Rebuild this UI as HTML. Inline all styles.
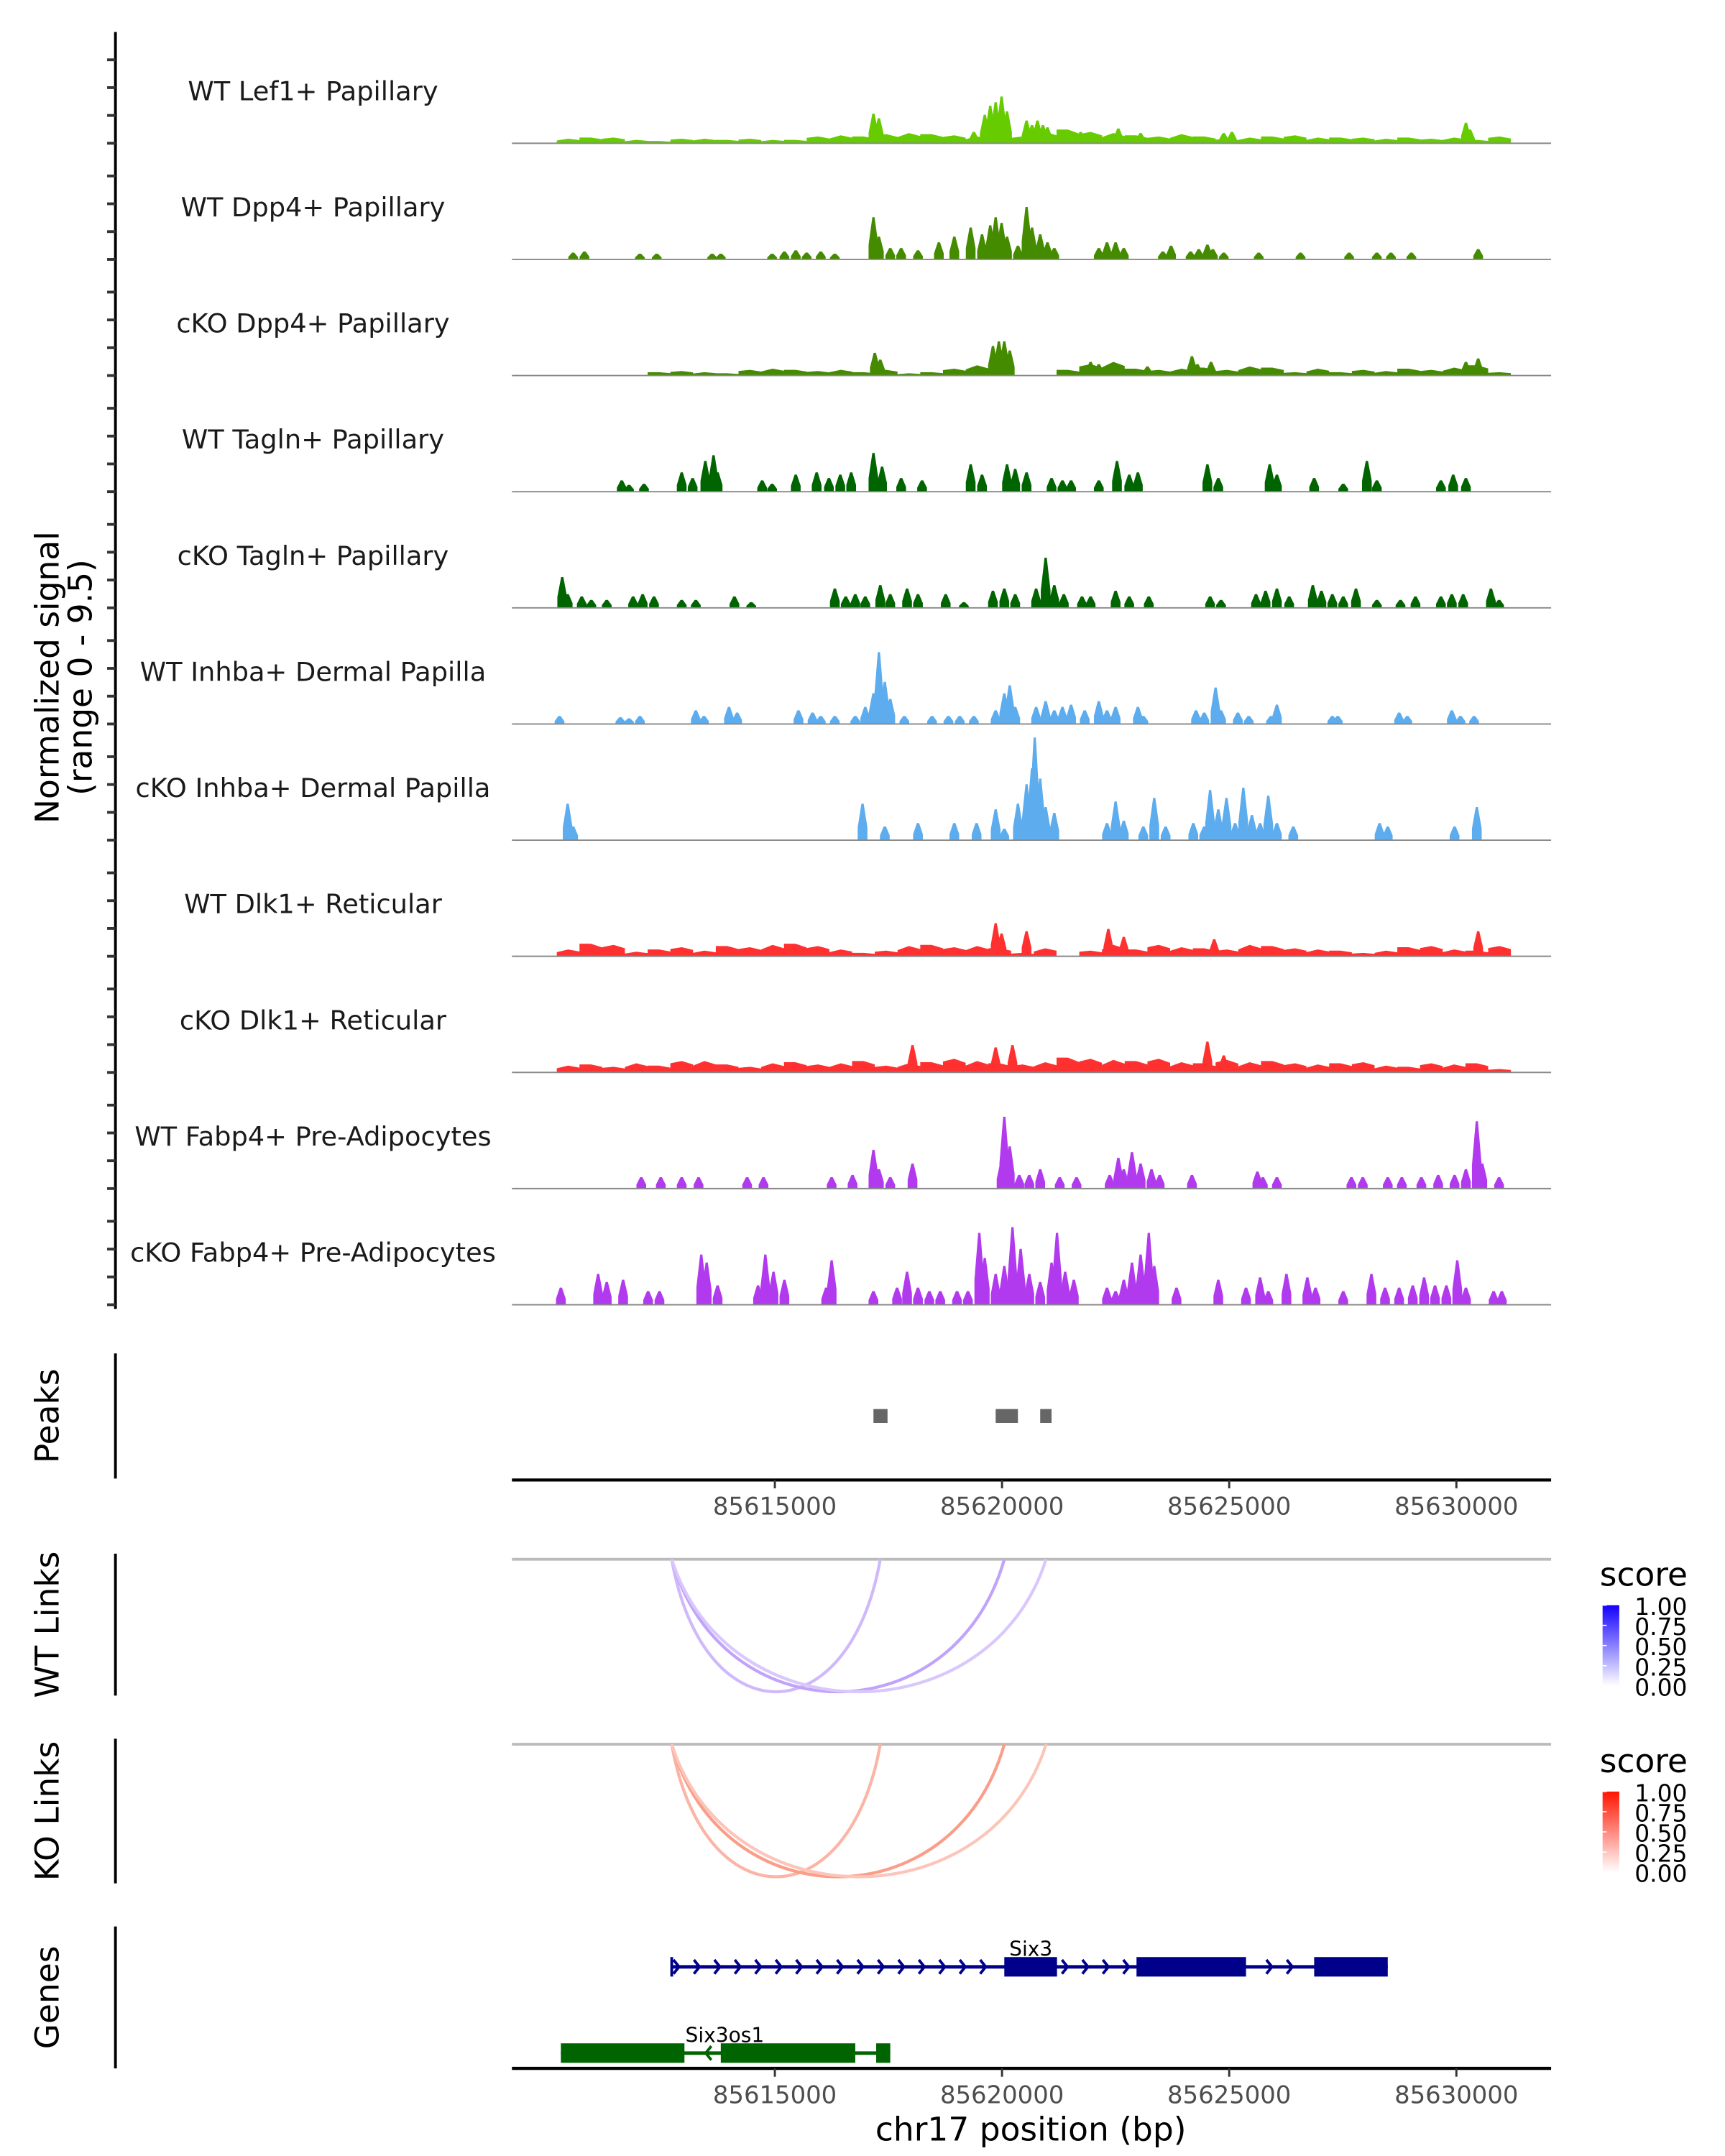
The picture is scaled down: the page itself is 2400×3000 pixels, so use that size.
<!DOCTYPE html>
<html><head><meta charset="utf-8"><title>Chromatin accessibility coverage plot for Six3 region, chr17</title>
<style>html,body{margin:0;padding:0;background:#fff}svg{display:block}text{font-family:"DejaVu Sans","Liberation Sans",sans-serif}</style>
</head><body>
<svg id="fig" xmlns="http://www.w3.org/2000/svg" width="2400" height="3000" viewBox="0 0 1240 1550">
<rect width="1240" height="1550" fill="#fff"/>
<g id="tracks"></g>
<g id="left"></g>
<text transform="translate(42,487) rotate(-90)" text-anchor="middle" font-size="23.5">Normalized signal</text>
<text transform="translate(66,487) rotate(-90)" text-anchor="middle" font-size="23.5">(range 0 - 9.5)</text>
<g id="peaks"></g>
<g id="links"></g>
<g id="genes"></g>
<g id="legend"></g>
</svg>
<script>
const NS='http://www.w3.org/2000/svg';
// ---- data ----
const trackNames=["WT Lef1+ Papillary","WT Dpp4+ Papillary","cKO Dpp4+ Papillary","WT Tagln+ Papillary","cKO Tagln+ Papillary","WT Inhba+ Dermal Papilla","cKO Inhba+ Dermal Papilla","WT Dlk1+ Reticular","cKO Dlk1+ Reticular","WT Fabp4+ Pre-Adipocytes","cKO Fabp4+ Pre-Adipocytes"];
const trackColors=["#66CC00","#458B00","#458B00","#006400","#006400","#5CACEE","#5CACEE","#FF3030","#FF3030","#B23AEE","#B23AEE"];
const bgStart=10.2, bgStep=0.5;
const bgLef1=[0.4,0.5,0.5,0.3,0.2,0.4,0.4,0.3,0.4,0.3,0.3,0.6,0.7,0.6,0.8,0.9,0.8,0.7,0.6,0.5,0.6,1.0,1.2,1.0,0.9,0.7,0.6,0.8,0.6,0.4,0.5,0.6,0.7,0.5,0.5,0.5,0.4,0.5,0.4,0.5,0.3,0.6];
const bgCkoDpp4=[0,0,0,0,0.3,0.4,0.3,0.2,0.5,0.6,0.5,0.4,0.5,0.3,0.5,0.2,0.3,0.6,0.9,0.5,0,0,0.5,1.0,1.2,0.6,0.5,0.6,0.7,0.5,0.8,0.7,0.3,0.6,0.3,0.5,0.4,0.6,0.5,0.7,0.9,0.3];
const bgWtDlk1=[0.6,1.1,1.0,0.4,0.6,0.8,0.5,0.9,0.8,1.0,1.1,0.9,0.6,0.3,0.5,0.9,1.0,0.8,0.9,0.7,0.3,0.7,0,0.5,1.0,0.6,1.0,0.8,0.7,0.6,1.0,0.9,0.7,0.6,0.5,0.3,0.5,0.8,0.9,0.6,0.5,0.9];
const bgCkoDlk1=[0.6,0.7,0.5,0.8,0.6,1.0,1.0,0.7,0.5,0.8,0.9,0.7,0.8,1.0,0.6,0.8,0.9,1.2,1.0,0.8,0.7,0.9,1.3,1.2,1.1,1.0,1.2,0.9,0.8,1.1,0.9,1.0,0.8,0.7,0.8,0.9,0.6,0.5,0.8,0.7,0.8,0.3];
const pkLef1=[[17.17,2.6],[17.29,2.2],[19.38,1.0],[19.62,2.5],[19.74,3.3],[19.86,3.6],[19.99,4.1],[20.11,2.8],[20.54,2.0],[20.66,1.6],[20.78,2.0],[20.90,1.6],[21.00,1.4],[21.45,1.0],[21.73,1.0],[22.56,1.3],[23.05,0.9],[24.88,0.9],[25.06,1.0],[30.21,1.8],[30.30,1.2]];
const pkWtDpp4=[[10.56,0.6],[10.81,0.7],[12.03,0.5],[12.40,0.5],[13.62,0.5],[13.81,0.5],[14.94,0.5],[15.21,0.7],[15.46,0.8],[15.70,0.6],[16.01,0.7],[16.32,0.5],[17.17,3.7],[17.29,2.0],[17.54,1.0],[17.78,1.0],[18.15,0.8],[18.61,1.5],[18.95,2.0],[19.31,2.8],[19.56,2.2],[19.74,3.0],[19.86,3.7],[19.99,3.2],[20.11,2.0],[20.35,1.2],[20.54,4.6],[20.66,2.8],[20.84,2.2],[21.00,1.5],[21.15,1.0],[22.13,1.0],[22.31,1.5],[22.50,1.5],[22.68,1.0],[23.54,0.7],[23.72,1.2],[24.15,0.7],[24.33,0.9],[24.52,1.3],[24.64,0.9],[24.88,0.6],[25.65,0.6],[26.57,0.6],[27.64,0.6],[28.25,0.6],[28.56,0.6],[29.01,0.6],[30.48,0.9]];
const pkCkoDpp4=[[17.20,2.0],[17.32,1.4],[19.80,2.6],[19.93,3.0],[20.05,3.0],[20.17,2.2],[21.95,1.2],[22.13,1.0],[23.20,0.8],[24.18,1.7],[24.30,1.0],[24.60,1.2],[30.21,1.2],[30.48,1.5]];
const pkWtTagln=[[11.63,1.0],[11.79,0.6],[12.12,0.7],[12.95,1.7],[13.19,1.2],[13.47,2.7],[13.65,3.2],[13.74,1.7],[14.72,1.0],[14.94,0.7],[15.46,1.5],[15.92,1.7],[16.19,1.2],[16.44,1.5],[16.68,1.7],[17.17,3.4],[17.36,2.2],[17.78,1.2],[18.24,1.0],[19.31,2.4],[19.56,1.5],[20.11,2.4],[20.29,2.0],[20.54,1.7],[21.09,1.2],[21.33,1.0],[21.52,1.0],[22.13,1.0],[22.53,2.7],[22.80,1.5],[22.99,1.7],[24.52,2.4],[24.76,1.2],[25.89,2.4],[26.05,1.5],[26.87,1.2],[27.51,0.7],[28.03,2.7],[28.25,1.0],[29.66,1.0],[29.93,1.5],[30.21,1.2]];
const pkCkoTagln=[[10.32,2.7],[10.44,1.2],[10.75,1.0],[10.96,0.7],[11.30,0.7],[11.88,1.0],[12.09,1.2],[12.34,1.0],[12.95,0.7],[13.26,0.7],[14.11,1.0],[14.48,0.5],[16.32,1.7],[16.56,1.0],[16.77,1.2],[16.99,1.0],[17.32,2.0],[17.54,1.2],[17.91,1.7],[18.15,1.2],[18.76,1.2],[19.16,0.5],[19.80,1.5],[20.05,1.7],[20.29,1.2],[20.75,1.7],[20.96,4.4],[21.15,2.0],[21.36,1.2],[21.76,1.0],[21.95,1.0],[22.50,1.5],[22.80,1.0],[23.23,1.0],[24.58,1.0],[24.82,0.7],[25.59,1.2],[25.80,1.5],[26.05,1.7],[26.32,1.0],[26.84,2.0],[27.03,1.5],[27.27,1.2],[27.51,1.0],[27.79,1.7],[28.25,0.7],[28.77,0.7],[29.10,1.0],[29.66,1.0],[29.90,1.2],[30.15,1.2],[30.76,1.7],[30.94,0.7]];
const pkWtInhba=[[10.26,0.7],[11.60,0.6],[11.79,0.5],[12.03,0.7],[13.26,1.2],[13.44,0.7],[13.99,1.5],[14.17,1.0],[15.52,1.2],[15.83,1.0],[16.01,0.7],[16.32,0.7],[16.77,0.7],[16.99,1.5],[17.17,2.7],[17.29,6.3],[17.42,3.7],[17.54,2.2],[17.85,0.7],[18.46,0.7],[18.82,0.7],[19.07,0.7],[19.38,0.7],[19.86,1.2],[20.05,2.7],[20.17,3.4],[20.29,1.5],[20.75,1.5],[20.96,2.0],[21.15,1.2],[21.33,1.5],[21.52,1.7],[21.82,1.2],[22.13,2.0],[22.31,1.2],[22.50,1.5],[22.99,1.5],[23.11,0.7],[24.27,1.2],[24.45,1.0],[24.70,3.2],[24.82,1.2],[25.19,1.0],[25.43,0.7],[25.92,0.7],[26.05,1.7],[27.27,0.7],[27.39,0.7],[28.74,1.0],[28.92,0.7],[29.90,1.2],[30.09,0.7],[30.39,0.7]];
const pkCkoInhba=[[10.44,3.2],[10.56,1.2],[16.93,3.2],[17.42,1.2],[18.15,1.5],[18.95,1.5],[19.44,1.5],[19.86,2.7],[20.05,1.0],[20.35,3.2],[20.54,4.9],[20.66,6.3],[20.72,9.0],[20.84,5.4],[20.96,2.9],[21.15,2.4],[22.31,1.5],[22.50,3.4],[22.68,1.7],[23.11,1.2],[23.35,3.7],[23.60,1.2],[24.21,1.5],[24.45,1.2],[24.58,4.4],[24.76,2.7],[24.94,3.7],[25.13,1.5],[25.31,4.6],[25.50,2.2],[25.68,1.5],[25.86,3.9],[26.05,1.5],[26.41,1.2],[28.31,1.5],[28.49,1.2],[29.96,1.2],[30.45,2.9]];
const pkWtDlk1=[[19.86,2.9],[19.99,2.0],[20.54,2.2],[22.34,2.4],[22.68,1.7],[24.67,1.5],[30.48,2.2]];
const pkCkoDlk1=[[18.03,2.4],[19.86,2.2],[20.23,2.4],[24.52,2.7],[24.88,1.5]];
const pkWtFabp4=[[12.06,1.0],[12.49,1.0],[12.95,1.0],[13.32,1.0],[14.39,1.0],[14.75,1.0],[16.25,1.0],[16.71,1.2],[17.17,3.4],[17.29,1.7],[17.54,1.0],[18.03,2.2],[19.99,2.4],[20.05,6.3],[20.17,3.7],[20.38,1.2],[20.60,1.2],[20.84,1.7],[21.27,1.0],[21.64,1.0],[22.37,1.2],[22.56,2.7],[22.68,1.7],[22.86,3.2],[23.05,2.2],[23.29,1.7],[23.47,1.2],[24.18,1.2],[25.62,1.5],[25.74,1.0],[26.05,1.0],[27.69,1.0],[27.94,1.0],[28.49,1.0],[28.80,1.0],[29.23,1.0],[29.60,1.2],[29.96,1.2],[30.21,1.7],[30.45,5.9],[30.57,2.2],[30.94,1.0]];
const pkCkoFabp4=[[10.29,1.5],[11.11,2.7],[11.30,2.0],[11.66,2.2],[12.21,1.2],[12.46,1.2],[13.38,4.4],[13.50,3.7],[13.74,1.7],[14.63,1.7],[14.79,4.4],[14.97,2.9],[15.21,2.2],[16.13,1.5],[16.25,3.9],[17.17,1.2],[17.69,1.5],[17.91,2.9],[18.15,1.5],[18.40,1.2],[18.64,1.2],[19.01,1.2],[19.25,1.2],[19.50,6.3],[19.62,4.1],[19.86,2.7],[20.05,3.4],[20.23,6.8],[20.41,4.9],[20.60,2.7],[20.84,2.0],[21.09,3.7],[21.21,6.3],[21.39,2.9],[21.58,2.2],[22.31,1.5],[22.50,1.2],[22.68,2.2],[22.86,3.7],[23.05,4.4],[23.23,6.3],[23.35,3.4],[23.84,1.5],[24.76,2.2],[25.37,1.5],[25.68,2.4],[25.86,1.2],[26.26,2.7],[26.72,2.4],[26.90,1.5],[27.51,1.2],[28.13,2.7],[28.43,1.5],[28.74,1.5],[29.04,1.7],[29.29,2.4],[29.53,1.7],[29.78,1.7],[30.02,3.9],[30.21,1.5],[30.82,1.2],[31.00,1.2]];
const trackBg=[bgLef1,null,bgCkoDpp4,null,null,null,null,bgWtDlk1,bgCkoDlk1,null,null];
const trackPeaks=[pkLef1,pkWtDpp4,pkCkoDpp4,pkWtTagln,pkCkoTagln,pkWtInhba,pkCkoInhba,pkWtDlk1,pkCkoDlk1,pkWtFabp4,pkCkoFabp4];
const peakRegions=[[17.17,17.48],[19.86,20.35],[20.84,21.09]];
const linkStarts=[12.73,12.73,12.73];
const linkEnds=[17.32,20.05,20.97];
const wtScores=[0.38,0.5,0.3];
const koScores=[0.38,0.50,0.30];
const xTicks=[15,20,25,30];
const xTickLabels=["85615000","85620000","85625000","85630000"];
const six3Span=[12.73,28.49];
const six3Exons=[[20.05,21.21],[22.96,25.37],[26.87,28.49]];
const six3osSpan=[10.29,17.54];
const six3osExons=[[10.29,13.01],[13.81,16.77],[17.23,17.54]];
const legendTicks=[1.00,0.75,0.50,0.25,0.00];
// ---- scales ----
const X0=368,X1=1115;
const xs=kb=>557+(kb-15)*32.66;
const UNIT=8.2;
const base=i=>103+i*83.5;
function el(tag,attrs,parent){const e=document.createElementNS(NS,tag);for(const k in attrs)e.setAttribute(k,attrs[k]);parent.appendChild(e);return e;}
const G=id=>document.getElementById(id);
// ---- tracks ----
const tg=G('tracks');
trackNames.forEach((nm,i)=>{
  const b=base(i);
  const g=el('g',{},tg);
  
  
  const lab=el('text',{x:225,y:b-31,'text-anchor':'middle','font-size':19,fill:'#1a1a1a'},g);
  lab.textContent=nm;
  
  
  const bg=trackBg[i];
  if(bg){
    let d='M'+xs(bgStart)+','+b;
    bg.forEach((v,j)=>{const xa=xs(bgStart+j*bgStep),xb=xs(bgStart+(j+1)*bgStep);const jit=(j%3===0)?0.6:(j%3===1?1:0.8);
      d+=' L'+xa+','+(b-v*UNIT*jit)+' L'+(xa+(xb-xa)*0.5)+','+(b-v*UNIT)+' L'+xb+','+(b-v*UNIT*0.7);});
    d+=' L'+xs(bgStart+bg.length*bgStep)+','+b+' Z';
    const p=el('path',{d:d,fill:trackColors[i]},g);
    
    
  }
  trackPeaks[i].forEach(pk=>{
    const cx=xs(pk[0]),h=pk[1]*UNIT,w=7;
    const p=el('path',{d:`M${cx-w/2},${b} L${cx-w/2},${b-h*0.35} L${cx-0.8},${b-h} L${cx+0.8},${b-h} L${cx+w/2},${b-h*0.35} L${cx+w/2},${b} Z`,fill:trackColors[i]},g);
    
    
  });
  const bl=el('line',{x1:X0,x2:X1,y1:b,y2:b,stroke:'#888','stroke-width':1},g);
  
  
});
// ---- left axes ----
const lg=G('left');
el('line',{x1:83,x2:83,y1:23,y2:941,stroke:'#000','stroke-width':2},lg);
for(let i=0;i<11;i++){for(let k=0;k<4;k++){const y=base(i)-k*20;el('line',{x1:77,x2:83,y1:y,y2:y,stroke:'#333','stroke-width':2},lg);}}
[[973,1063],[1117,1219],[1250,1354],[1385,1487]].forEach(r=>el('line',{x1:83,x2:83,y1:r[0],y2:r[1],stroke:'#000','stroke-width':2},lg));
[["Peaks",1018],["WT Links",1168],["KO Links",1302],["Genes",1436]].forEach(a=>{const t=el('text',{transform:`translate(42,${a[1]}) rotate(-90)`,'text-anchor':'middle','font-size':23.5},lg);t.textContent=a[0];
  
  });
// ---- peaks ----
const pg=G('peaks');
peakRegions.forEach(r=>{const rc=el('rect',{x:xs(r[0]),y:1013,width:xs(r[1])-xs(r[0]),height:10,fill:'#666'},pg);
  
  });
function xAxis(y,parent,nm){
  const a=el('g',{},parent);
  
  
  el('line',{x1:X0,x2:X1,y1:y,y2:y,stroke:'#000','stroke-width':2.2},a);
  xTicks.forEach((t,j)=>{el('line',{x1:xs(t),x2:xs(t),y1:y,y2:y+6,stroke:'#333','stroke-width':1.5},a);
    const tx=el('text',{x:xs(t),y:y+25,'text-anchor':'middle','font-size':17.5,fill:'#4d4d4d'},a);tx.textContent=xTickLabels[j];});
}
xAxis(1064,pg,'peaks-x-axis');
// ---- links ----
const lk=G('links');
function mix(c,s){return 'rgb('+c.map(v=>Math.round(255+(v-255)*s)).join(',')+')';}
function linkPanel(y0,scores,col,nm){
  const g=el('g',{},lk);
  
  
  el('line',{x1:X0,x2:X1,y1:y0,y2:y0,stroke:'#bbb','stroke-width':2},g);
  scores.forEach((s,j)=>{const a=xs(linkStarts[j]),b=xs(linkEnds[j]);
    const p=el('path',{d:`M${a},${y0} C${a+(b-a)*0.15},${y0+127} ${a+(b-a)*0.85},${y0+127} ${b},${y0}`,fill:'none',stroke:mix(col,s),'stroke-width':2.2},g);
    
    });
}
linkPanel(1121,wtScores,[130,70,245],'wt-links');
linkPanel(1254,koScores,[245,60,20],'ko-links');
// ---- genes ----
const gg=G('genes');
function gene(span,exons,y,col,dir,label,lx,nm){
  const g=el('g',{},gg);
  
  
  el('line',{x1:xs(span[0]),x2:xs(span[1]),y1:y,y2:y,stroke:col,'stroke-width':2.5},g);
  for(let kb=span[0]+0.1;kb<span[1];kb+=0.45){const cx=xs(kb);
    if(exons.some(e=>kb>=e[0]-0.1&&kb<=e[1]+0.1))continue;
    el('path',{d:dir>0?`M${cx-2},${y-5} L${cx+2},${y} L${cx-2},${y+5}`:`M${cx+2},${y-5} L${cx-2},${y} L${cx+2},${y+5}`,fill:'none',stroke:col,'stroke-width':2},g);}
  exons.forEach(e=>{const r=el('rect',{x:xs(e[0]),y:y-7,width:xs(e[1])-xs(e[0]),height:14,fill:col},g);
    
    });
  const t=el('text',{x:lx,y:y-8,'text-anchor':'middle','font-size':14.5},g);t.textContent=label;
}
gene(six3Span,six3Exons,1414,'#00008B',1,'Six3',741,'gene-six3');
el('line',{x1:xs(six3Span[0]),x2:xs(six3Span[0]),y1:1407,y2:1421,stroke:'#00008B','stroke-width':2},gg);
gene(six3osSpan,six3osExons,1476,'#006400',-1,'Six3os1',521,'gene-six3os1');
xAxis(1487,gg,'x-axis');
const xt=el('text',{x:741,y:1539,'text-anchor':'middle','font-size':23.5},gg);xt.textContent='chr17 position (bp)';


// ---- legends ----
const lgd=G('legend');
function legend(y0,col,id,nm){
  const g=el('g',{},lgd);
  
  
  const defs=el('defs',{},g);const grad=el('linearGradient',{id:id,x1:0,y1:0,x2:0,y2:1},defs);
  el('stop',{offset:0,'stop-color':mix(col,1)},grad);el('stop',{offset:1,'stop-color':'#fff'},grad);
  const t=el('text',{x:1150,y:y0,'font-size':23.5},g);t.textContent='score';
  el('rect',{x:1152,y:y0+14,width:12,height:58,fill:`url(#${id})`},g);
  legendTicks.forEach((v,j)=>{const y=y0+14+j*14.5;
    el('line',{x1:1152,x2:1155,y1:y,y2:y,stroke:'#fff','stroke-width':0.8},g);
    const tx=el('text',{x:1175,y:y+7,'font-size':17},g);tx.textContent=v.toFixed(2);});
}
legend(1140,[20,0,255],'gb','wt-score-legend');
legend(1274,[255,20,0],'gr','ko-score-legend');
</script>
</body></html>
